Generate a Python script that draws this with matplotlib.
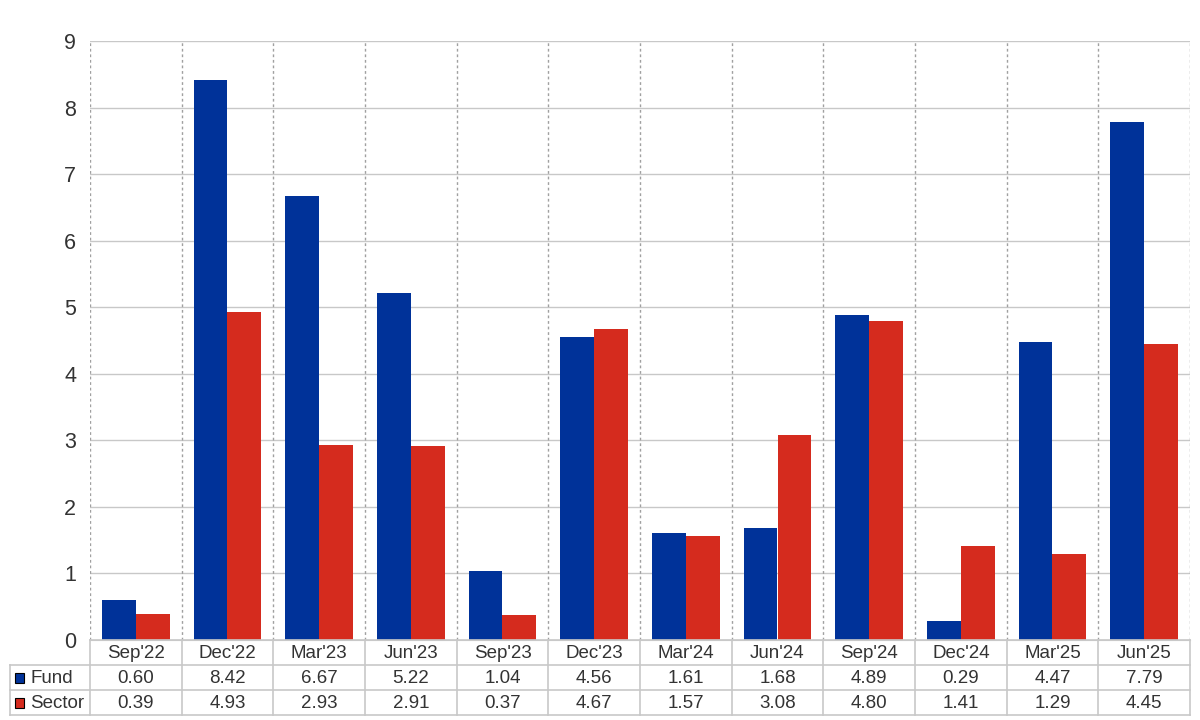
import matplotlib
matplotlib.use("Agg")
import matplotlib.pyplot as plt
import numpy as np

categories = ["Sep'22", "Dec'22", "Mar'23", "Jun'23", "Sep'23", "Dec'23",
              "Mar'24", "Jun'24", "Sep'24", "Dec'24", "Mar'25", "Jun'25"]
fund = [0.60, 8.42, 6.67, 5.22, 1.04, 4.56, 1.61, 1.68, 4.89, 0.29, 4.47, 7.79]
sector = [0.39, 4.93, 2.93, 2.91, 0.37, 4.67, 1.57, 3.08, 4.80, 1.41, 1.29, 4.45]
series_names = ["Fund", "Sector"]
yticks = list(range(0, 10))

BLUE = "#003299"
RED = "#D52B1E"
GRID = "#c8c8c8"
TXT = "#333333"

plt.rcParams['font.family'] = ['Liberation Sans', 'DejaVu Sans']

W, H = 1200, 720
fig = plt.figure(figsize=(12, 7.2), dpi=100)

# main axes (pixels)
ax_l, ax_r, ax_t, ax_b = 90, 1190, 41, 640
ax = fig.add_axes([ax_l / W, 1 - ax_b / H, (ax_r - ax_l) / W, (ax_b - ax_t) / H])
n = len(categories)
x = np.arange(n)
bw = 0.37
ax.bar(x - bw / 2, fund, width=bw, color=BLUE, zorder=3)
ax.bar(x + bw / 2, sector, width=bw, color=RED, zorder=3)
ax.set_xlim(-0.5, n - 0.5)
ax.set_ylim(0, 9)
ax.set_yticks(yticks)
ax.set_yticklabels([str(v) for v in yticks], fontsize=15.5, color=TXT)
ax.tick_params(axis='y', length=0, pad=10)
ax.set_xticks([])
for yv in yticks[1:]:
    ax.axhline(yv, color=GRID, lw=1, zorder=1)
for xv in np.arange(-0.5, n, 1.0):
    ax.axvline(xv, color="#a0a0a0", lw=1, ls=(0, (2, 2)), zorder=1)
for s in ["top", "right", "left"]:
    ax.spines[s].set_visible(False)
ax.spines["bottom"].set_color(GRID)
ax.spines["bottom"].set_zorder(4)

# table axes
tb_l, tb_r, tb_t, tb_b = 10, 1190, 640, 715
tax = fig.add_axes([tb_l / W, 1 - tb_b / H, (tb_r - tb_l) / W, (tb_b - tb_t) / H])
ppc = (ax_r - ax_l) / n
left_x = -0.5 - (ax_l - tb_l) / ppc
tax.set_xlim(left_x, n - 0.5)
tax.set_ylim(3, 0)
tax.axis("off")

lk = dict(color=GRID, lw=1.2, clip_on=False)
tax.plot([-0.5, n - 0.5], [0, 0], **lk)
tax.plot([left_x, n - 0.5], [1, 1], **lk)
tax.plot([left_x, n - 0.5], [2, 2], **lk)
tax.plot([left_x, n - 0.5], [3, 3], **lk)
tax.plot([left_x, left_x], [1, 3], **lk)
for xv in np.arange(-0.5, n, 1.0):
    tax.plot([xv, xv], [0, 3], **lk)

fs = 13.5
for i, c in enumerate(categories):
    tax.text(i, 0.55, c, ha="center", va="center", fontsize=fs, color=TXT)
    tax.text(i, 1.55, f"{fund[i]:.2f}", ha="center", va="center", fontsize=fs, color=TXT)
    tax.text(i, 2.55, f"{sector[i]:.2f}", ha="center", va="center", fontsize=fs, color=TXT)

for r, (name, col) in enumerate(zip(series_names, [BLUE, RED])):
    yc = 1.5 + r
    tax.add_patch(plt.Rectangle((left_x + 0.05, yc - 0.2), 0.1, 0.4,
                                facecolor=col, edgecolor="black", lw=0.8, clip_on=False))
    tax.text(left_x + 0.22, yc + 0.05, name, ha="left", va="center", fontsize=fs, color=TXT)

fig.savefig("out.png", dpi=100)
